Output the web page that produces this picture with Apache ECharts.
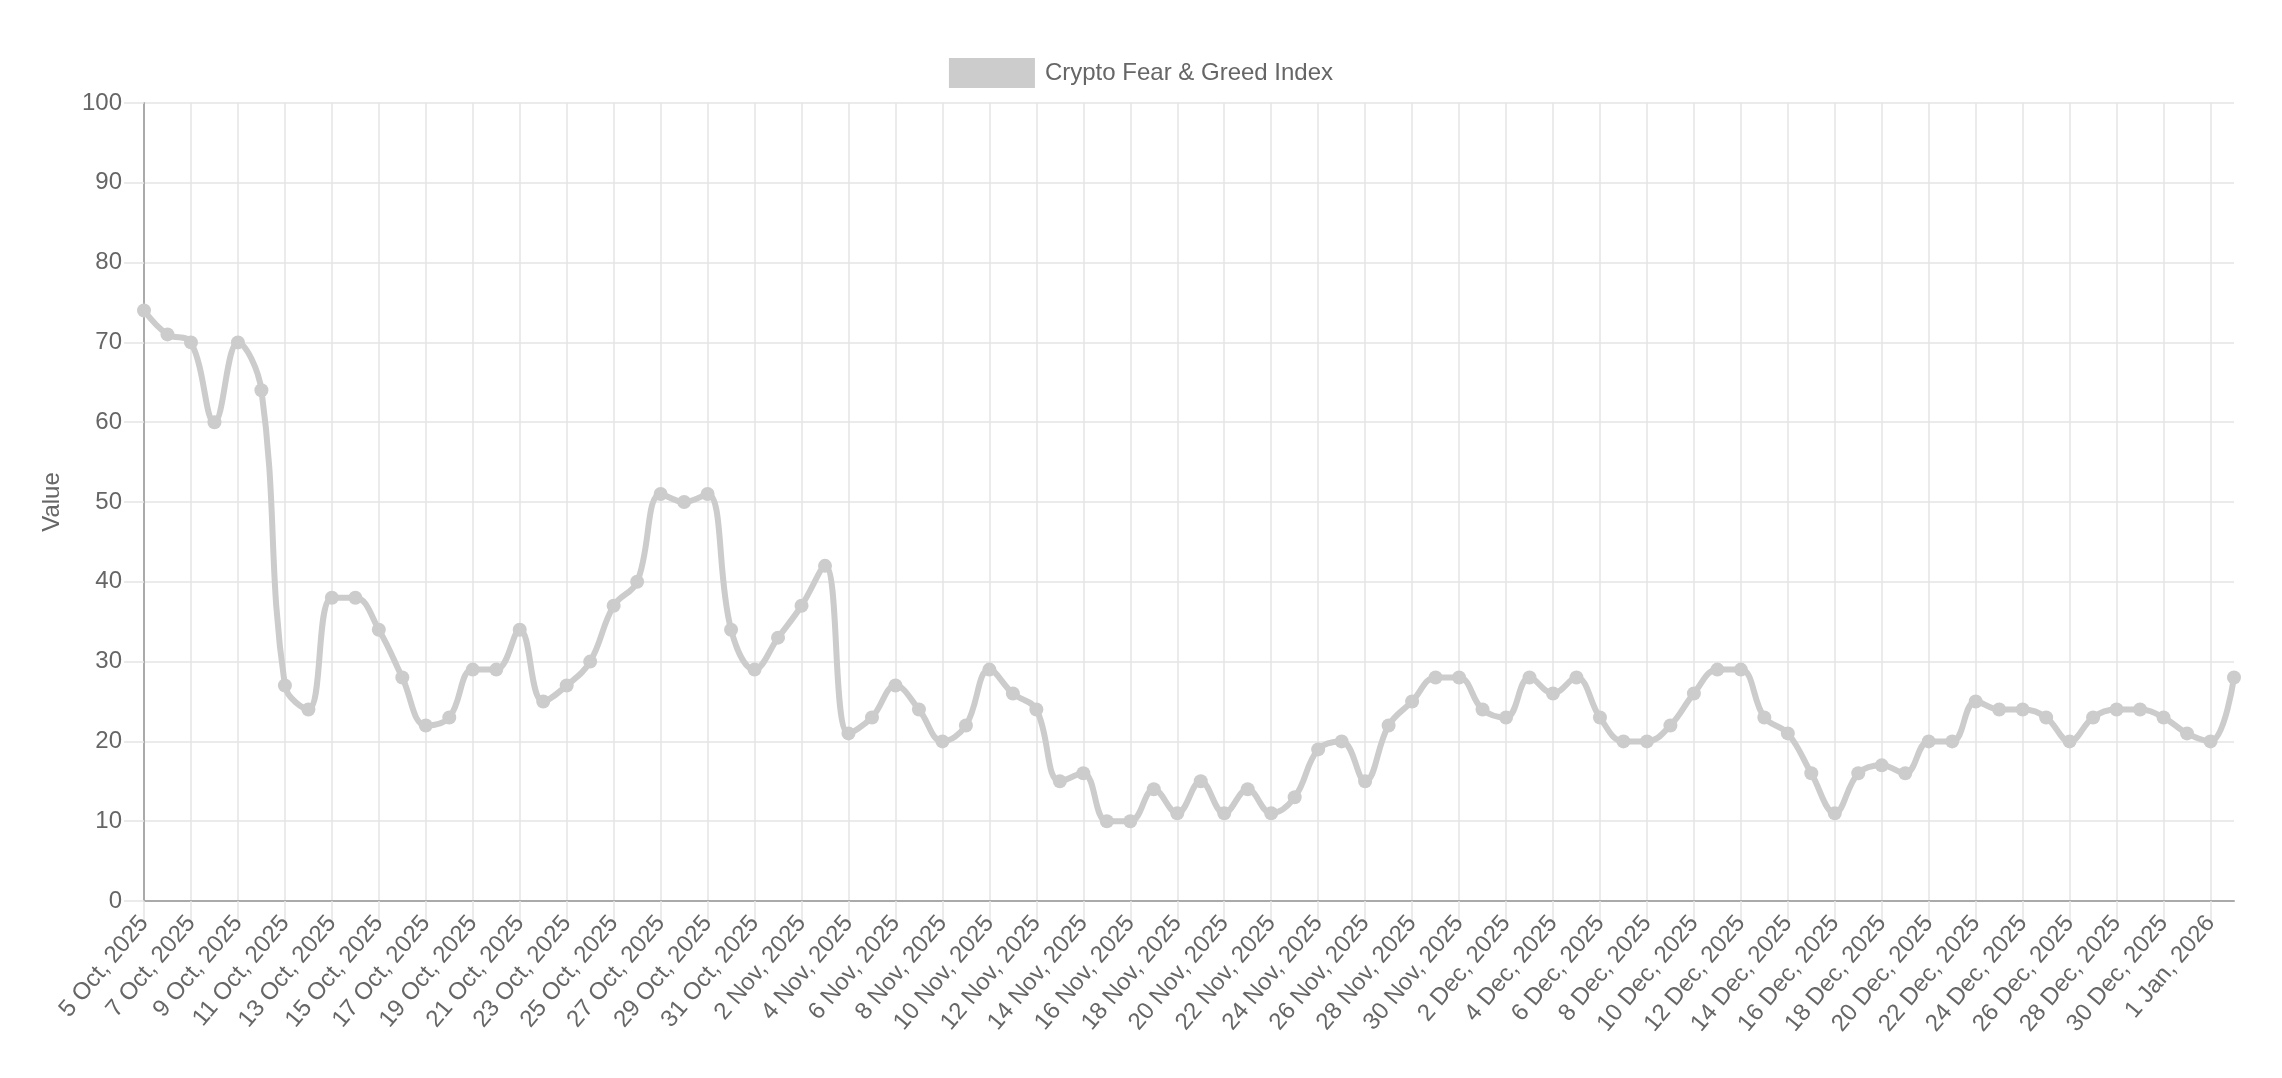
<!DOCTYPE html>
<html>
<head>
<meta charset="utf-8">
<script src="https://cdn.jsdelivr.net/npm/echarts@6/dist/echarts.min.js"></script>
<style>
  html, body { margin: 0; padding: 0; background: #ffffff; }
  #chart { width: 2282px; height: 1078px; }
</style>
</head>
<body>
<div id="chart"></div>
<script>
const categories = [
  "5 Oct, 2025","6 Oct, 2025","7 Oct, 2025","8 Oct, 2025","9 Oct, 2025","10 Oct, 2025",
  "11 Oct, 2025","12 Oct, 2025","13 Oct, 2025","14 Oct, 2025","15 Oct, 2025","16 Oct, 2025",
  "17 Oct, 2025","18 Oct, 2025","19 Oct, 2025","20 Oct, 2025","21 Oct, 2025","22 Oct, 2025",
  "23 Oct, 2025","24 Oct, 2025","25 Oct, 2025","26 Oct, 2025","27 Oct, 2025","28 Oct, 2025",
  "29 Oct, 2025","30 Oct, 2025","31 Oct, 2025","1 Nov, 2025","2 Nov, 2025","3 Nov, 2025",
  "4 Nov, 2025","5 Nov, 2025","6 Nov, 2025","7 Nov, 2025","8 Nov, 2025","9 Nov, 2025",
  "10 Nov, 2025","11 Nov, 2025","12 Nov, 2025","13 Nov, 2025","14 Nov, 2025","15 Nov, 2025",
  "16 Nov, 2025","17 Nov, 2025","18 Nov, 2025","19 Nov, 2025","20 Nov, 2025","21 Nov, 2025",
  "22 Nov, 2025","23 Nov, 2025","24 Nov, 2025","25 Nov, 2025","26 Nov, 2025","27 Nov, 2025",
  "28 Nov, 2025","29 Nov, 2025","30 Nov, 2025","1 Dec, 2025","2 Dec, 2025","3 Dec, 2025",
  "4 Dec, 2025","5 Dec, 2025","6 Dec, 2025","7 Dec, 2025","8 Dec, 2025","9 Dec, 2025",
  "10 Dec, 2025","11 Dec, 2025","12 Dec, 2025","13 Dec, 2025","14 Dec, 2025","15 Dec, 2025",
  "16 Dec, 2025","17 Dec, 2025","18 Dec, 2025","19 Dec, 2025","20 Dec, 2025","21 Dec, 2025",
  "22 Dec, 2025","23 Dec, 2025","24 Dec, 2025","25 Dec, 2025","26 Dec, 2025","27 Dec, 2025",
  "28 Dec, 2025","29 Dec, 2025","30 Dec, 2025","31 Dec, 2025","1 Jan, 2026","2 Jan, 2026"
];

const fearGreedValues = [
  74, 71, 70, 60, 70, 64,
  27, 24, 38, 38, 34, 28,
  22, 23, 29, 29, 34, 25,
  27, 30, 37, 40, 51, 50,
  51, 34, 29, 33, 37, 42,
  21, 23, 27, 24, 20, 22,
  29, 26, 24, 15, 16, 10,
  10, 14, 11, 15, 11, 14,
  11, 13, 19, 20, 15, 22,
  25, 28, 28, 24, 23, 28,
  26, 28, 23, 20, 20, 22,
  26, 29, 29, 23, 21, 16,
  11, 16, 17, 16, 20, 20,
  25, 24, 24, 23, 20, 23,
  24, 24, 23, 21, 20, 28
];

const seriesName = "Crypto Fear & Greed Index";
const yAxisTitle = "Value";

const FONT = "'Liberation Sans', Arial, Helvetica, sans-serif";
const TEXT = "#666666";
const GRID = "#e5e5e5";
const AXIS = "#aaaaaa";
const LINE = "#cccccc";
const FS = 24;

const chart = echarts.init(document.getElementById('chart'), null, { renderer: 'canvas' });
chart.setOption({
  animation: false,
  backgroundColor: '#ffffff',
  textStyle: { fontFamily: FONT },
  legend: {
    top: 58,
    left: 'center',
    padding: 0,
    icon: 'rect',
    itemWidth: 86,
    itemHeight: 30,
    data: [{ name: seriesName, icon: 'rect', itemStyle: { color: LINE, borderWidth: 0 } }],
    textStyle: { color: TEXT, fontSize: FS, fontFamily: FONT, padding: [0, 0, 0, 5] }
  },
  grid: { left: 144, right: 48, top: 103, bottom: 177, containLabel: false },
  xAxis: {
    type: 'category',
    data: categories,
    boundaryGap: false,
    axisLine: { show: true, lineStyle: { color: AXIS, width: 2 } },
    axisTick: { show: true, interval: 1, length: 20, lineStyle: { color: GRID, width: 1.5 } },
    axisLabel: {
      interval: 1, rotate: 50, margin: 18,
      color: TEXT, fontSize: FS, fontFamily: FONT
    },
    splitLine: { show: true, interval: 1, lineStyle: { color: GRID, width: 1.5 } }
  },
  yAxis: {
    type: 'value',
    min: 0,
    max: 100,
    interval: 10,
    name: yAxisTitle,
    nameLocation: 'middle',
    nameRotate: 90,
    nameGap: 80,
    nameTextStyle: { color: TEXT, fontSize: FS, fontFamily: FONT },
    axisLine: { show: true, lineStyle: { color: AXIS, width: 2 } },
    axisTick: { show: true, length: 20, lineStyle: { color: GRID, width: 1.5 } },
    axisLabel: { margin: 22, color: TEXT, fontSize: FS, fontFamily: FONT },
    splitLine: { show: true, lineStyle: { color: GRID, width: 1.5 } }
  },
  series: [{
    name: seriesName,
    type: 'line',
    data: fearGreedValues,
    smooth: 0.4,
    symbol: 'circle',
    symbolSize: 14,
    showAllSymbol: true,
    lineStyle: { color: LINE, width: 6 },
    itemStyle: { color: LINE, borderColor: LINE, borderWidth: 0 }
  }]
});
</script>
</body>
</html>
